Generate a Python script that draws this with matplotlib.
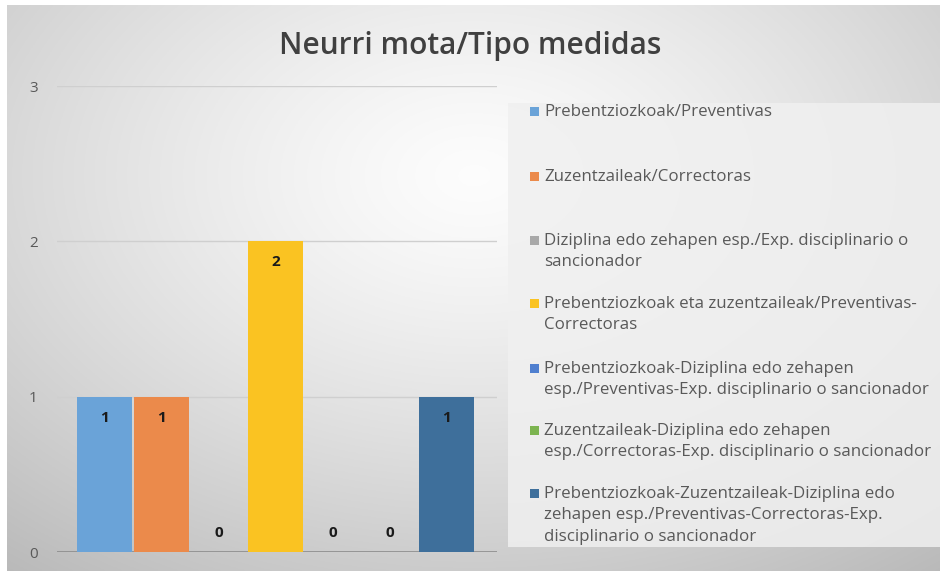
import numpy as np
import matplotlib.pyplot as plt
from matplotlib.patches import Rectangle

# ---------------------------------------------------------------- data
title = 'Neurri mota/Tipo medidas'
series_labels = [
    'Prebentziozkoak/Preventivas',
    'Zuzentzaileak/Correctoras',
    'Diziplina edo zehapen esp./Exp. disciplinario o\nsancionador',
    'Prebentziozkoak eta zuzentzaileak/Preventivas-\nCorrectoras',
    'Prebentziozkoak-Diziplina edo zehapen\nesp./Preventivas-Exp. disciplinario o sancionador',
    'Zuzentzaileak-Diziplina edo zehapen\nesp./Correctoras-Exp. disciplinario o sancionador',
    'Prebentziozkoak-Zuzentzaileak-Diziplina edo\nzehapen esp./Preventivas-Correctoras-Exp.\ndisciplinario o sancionador',
]
values = [1, 1, 0, 2, 0, 0, 1]
colors = ['#6aa3d8', '#eb8a4b', '#a9a9a9', '#fac322', '#4f7fcf', '#7cb450', '#3e6f9b']
y_ticks = [0, 1, 2, 3]

W, H = 940, 571
plt.rcParams['font.family'] = ['Open Sans', 'DejaVu Sans']

fig = plt.figure(figsize=(W / 100, H / 100), dpi=100)
fig.patch.set_facecolor('white')

#================================================================ background
bg = fig.add_axes([7 / W, 0, 1 - 7 / W, 1 - 5 / H], zorder=-10)
yy, xx = np.mgrid[0:300, 0:500]
cx, cy = 250, 90
r = np.sqrt(((xx - cx) / 500.0) ** 2 + ((yy - cy) / 330.0) ** 2)
shade = np.clip(1.0 - 0.35 * r ** 1.3, 0, 1)
img = np.dstack([shade * 0.99, shade * 0.99, shade * 0.99])
bg.imshow(img, aspect='auto', extent=[0, 1, 0, 1], origin='upper')
bg.set_axis_off()

# legend box
fig.patches.append(Rectangle((508 / W, 1 - 547 / H), 1 - 508 / W, (547 - 103) / H,
                             transform=fig.transFigure, facecolor='#f0f0f0',
                             edgecolor='none', alpha=0.85, zorder=-5))

#================================================================ bars
ax = fig.add_axes([57 / W, 1 - 552 / H, (497 - 57) / W, (552 - 86) / H])
ax.patch.set_alpha(0)
x = np.arange(len(values))
bars = ax.bar(x, values, width=0.965, color=colors, zorder=3)
ax.set_xlim(-0.835, 6.885)
ax.set_ylim(0, 3)
ax.set_yticks(y_ticks)
ax.set_yticklabels([str(t) for t in y_ticks], fontsize=11, color='#595959')
ax.set_xticks([])
ax.tick_params(axis='y', length=0, pad=14)
for s in ax.spines.values():
    s.set_visible(False)
for t in y_ticks[1:]:
    ax.axhline(t, color='#cfcfcf', lw=1, zorder=1)
ax.axhline(0, color='#8c8c8c', lw=1.2, zorder=2)

for xi, v in zip(x, values):
    off = -15 if v > 0 else 14
    ax.annotate(str(v), (xi, v), xytext=(0, off), textcoords='offset points',
                ha='center', va='center', fontsize=11, fontweight='bold',
                color='#1a1a1a', zorder=4)

fig.text(0.5, 1 - 46 / H, title, ha='center', va='center', fontsize=21.5,
         color='#404040', fontweight='semibold')

#================================================================ legend
entry_tops = [104, 169, 233, 296, 361, 423, 486]
for top, lab, bar in zip(entry_tops, series_labels, bars):
    fig.patches.append(Rectangle((530 / W, 1 - (top + 12) / H), 9 / W, 9 / H,
                                 transform=fig.transFigure,
                                 facecolor=bar.get_facecolor(), edgecolor='none'))
    fig.text(544 / W, 1 - top / H, lab, ha='left', va='top', fontsize=12.2,
             color='#595959', linespacing=1.45)

fig.savefig('out.png', dpi=100)
